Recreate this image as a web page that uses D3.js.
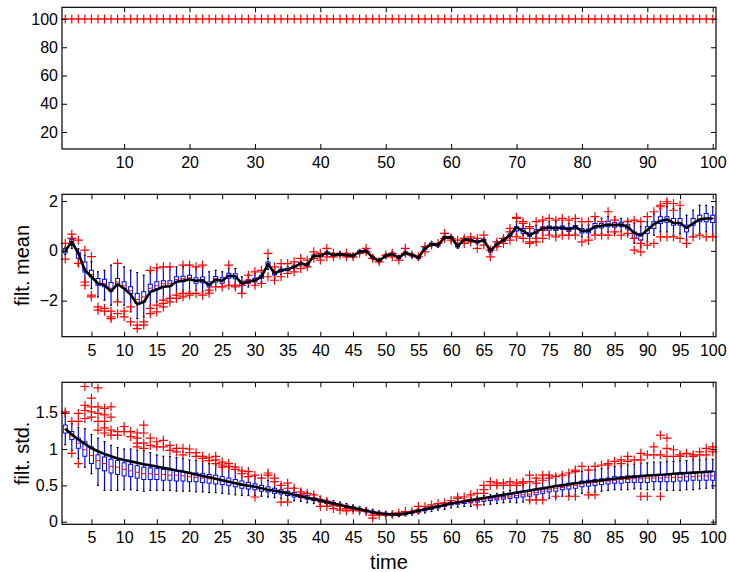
<!DOCTYPE html>
<html>
<head>
<meta charset="utf-8">
<script src="https://cdn.jsdelivr.net/npm/d3@7"></script>
<style>
  html, body { margin: 0; padding: 0; background: #fff; }
  svg { display: block; font-family: "Liberation Sans", Arial, Helvetica, sans-serif; }
</style>
</head>
<body>
<svg id="chart" width="730" height="572"></svg>
<script>
// time steps 1..100 (one box per step)
const timeSteps = d3.range(1, 101);

const xTicksTop = [10, 20, 30, 40, 50, 60, 70, 80, 90, 100];
const xTicksFive = [5, 10, 15, 20, 25, 30, 35, 40, 45, 50, 55, 60, 65, 70, 75, 80, 85, 90, 95, 100];
const yTicksCount = [20, 40, 60, 80, 100];
const yTicksMean = [-2, 0, 2];
const yTicksStd = [0, 0.5, 1, 1.5];

// panel 1: particle count per step
const particleCounts = [
  100, 100, 100, 100, 100, 100, 100, 100, 100, 100, 100, 100, 100, 100, 100, 100, 100, 100, 100, 100,
  100, 100, 100, 100, 100, 100, 100, 100, 100, 100, 100, 100, 100, 100, 100, 100, 100, 100, 100, 100,
  100, 100, 100, 100, 100, 100, 100, 100, 100, 100, 100, 100, 100, 100, 100, 100, 100, 100, 100, 100,
  100, 100, 100, 100, 100, 100, 100, 100, 100, 100, 100, 100, 100, 100, 100, 100, 100, 100, 100, 100,
  100, 100, 100, 100, 100, 100, 100, 100, 100, 100, 100, 100, 100, 100, 100, 100, 100, 100, 100, 100
];

// panel 2: filtered mean
const meanTruth = [
  0.00, 0.36, -0.10, -0.78, -1.04, -1.31, -1.38, -1.62, -1.34, -1.51,
  -1.75, -2.14, -2.05, -1.65, -1.55, -1.44, -1.42, -1.24, -1.20, -1.15,
  -1.20, -1.18, -1.38, -1.15, -1.20, -1.00, -1.02, -1.31, -1.24, -1.18,
  -1.04, -0.53, -0.91, -0.78, -0.75, -0.64, -0.51, -0.57, -0.20, -0.20,
  -0.08, -0.17, -0.13, -0.17, -0.20, -0.04, 0.00, -0.27, -0.40, -0.20,
  -0.13, -0.27, -0.08, -0.17, -0.27, 0.10, 0.27, 0.23, 0.54, 0.54,
  0.19, 0.46, 0.43, 0.36, 0.43, 0.00, 0.27, 0.43, 0.63, 0.94,
  0.80, 0.63, 0.76, 0.90, 0.94, 0.90, 0.94, 0.86, 0.96, 0.80,
  0.80, 0.98, 1.00, 1.06, 1.03, 1.06, 0.96, 0.72, 0.62, 0.84,
  1.07, 1.20, 1.26, 1.12, 1.12, 0.92, 1.10, 1.26, 1.30, 1.30
];
const meanMedian = [
  0.00, 0.38, -0.12, -0.70, -0.95, -1.30, -1.30, -1.50, -1.25, -1.40,
  -1.60, -1.95, -1.85, -1.50, -1.40, -1.32, -1.30, -1.15, -1.12, -1.08,
  -1.18, -1.15, -1.35, -1.13, -1.18, -1.00, -1.02, -1.30, -1.24, -1.18,
  -1.04, -0.53, -0.91, -0.78, -0.75, -0.64, -0.51, -0.57, -0.20, -0.20,
  -0.08, -0.17, -0.13, -0.17, -0.20, -0.04, 0.00, -0.27, -0.40, -0.20,
  -0.13, -0.27, -0.08, -0.17, -0.27, 0.10, 0.27, 0.23, 0.54, 0.54,
  0.19, 0.46, 0.43, 0.36, 0.43, 0.00, 0.27, 0.43, 0.63, 0.90,
  0.80, 0.65, 0.77, 0.90, 0.93, 0.90, 0.94, 0.86, 0.96, 0.80,
  0.80, 0.98, 1.00, 1.06, 1.03, 1.06, 0.96, 0.70, 0.60, 0.84,
  1.05, 1.20, 1.25, 1.12, 1.12, 0.92, 1.10, 1.26, 1.30, 1.30
];
const meanQ3 = [
  0.09, 0.46, -0.05, -0.45, -0.78, -1.11, -1.14, -1.27, -1.11, -1.24,
  -1.44, -1.71, -1.64, -1.34, -1.24, -1.20, -1.20, -1.04, -1.02, -0.98,
  -1.08, -1.05, -1.25, -1.03, -1.08, -0.90, -0.92, -1.22, -1.16, -1.10,
  -0.98, -0.45, -0.85, -0.73, -0.70, -0.60, -0.47, -0.53, -0.17, -0.17,
  -0.04, -0.13, -0.09, -0.13, -0.16, 0.00, 0.04, -0.23, -0.36, -0.16,
  -0.09, -0.23, -0.04, -0.13, -0.23, 0.14, 0.31, 0.27, 0.58, 0.58,
  0.23, 0.50, 0.47, 0.40, 0.47, 0.05, 0.32, 0.48, 0.68, 0.97,
  0.90, 0.72, 0.85, 0.97, 1.00, 0.97, 1.00, 0.93, 1.02, 0.90,
  0.88, 1.10, 1.10, 1.19, 1.14, 1.15, 1.05, 0.76, 0.70, 0.97,
  1.17, 1.37, 1.37, 1.30, 1.30, 1.03, 1.30, 1.43, 1.50, 1.43
];
const meanQ1 = [
  -0.08, 0.23, -0.30, -0.85, -1.04, -1.38, -1.44, -1.62, -1.38, -1.51,
  -1.71, -2.11, -2.05, -1.62, -1.51, -1.44, -1.42, -1.27, -1.24, -1.18,
  -1.30, -1.28, -1.45, -1.25, -1.30, -1.10, -1.12, -1.40, -1.30, -1.25,
  -1.10, -0.60, -0.97, -0.83, -0.80, -0.68, -0.55, -0.61, -0.23, -0.23,
  -0.12, -0.21, -0.17, -0.21, -0.24, -0.08, -0.04, -0.31, -0.44, -0.24,
  -0.17, -0.31, -0.12, -0.21, -0.31, 0.06, 0.23, 0.19, 0.50, 0.50,
  0.15, 0.42, 0.39, 0.32, 0.39, -0.05, 0.22, 0.38, 0.57, 0.80,
  0.70, 0.58, 0.70, 0.82, 0.83, 0.82, 0.86, 0.78, 0.88, 0.72,
  0.72, 0.90, 0.92, 0.97, 0.95, 0.97, 0.88, 0.50, 0.43, 0.70,
  0.90, 1.10, 1.15, 1.03, 1.03, 0.76, 1.03, 1.17, 1.17, 1.14
];
const meanHigh = [
  0.15, 0.55, 0.09, -0.17, -0.44, -0.84, -0.78, -0.57, -0.51, -0.64,
  -0.78, -0.87, -0.98, -0.84, -0.68, -0.64, -0.64, -0.64, -0.64, -0.57,
  -0.64, -0.64, -0.84, -0.78, -0.84, -0.71, -0.71, -1.04, -0.95, -0.90,
  -0.85, -0.30, -0.75, -0.65, -0.62, -0.54, -0.42, -0.48, -0.12, -0.12,
  0.01, -0.08, -0.04, -0.08, -0.11, 0.05, 0.09, -0.18, -0.31, -0.11,
  -0.04, -0.18, 0.01, -0.08, -0.18, 0.19, 0.36, 0.32, 0.63, 0.63,
  0.28, 0.55, 0.52, 0.45, 0.52, 0.10, 0.40, 0.55, 0.78, 1.17,
  1.03, 0.90, 1.03, 1.17, 1.17, 1.17, 1.23, 1.10, 1.17, 1.03,
  1.03, 1.30, 1.30, 1.37, 1.37, 1.30, 1.23, 1.10, 0.97, 1.17,
  1.50, 1.70, 1.77, 1.70, 1.70, 1.43, 1.63, 1.83, 1.83, 1.77
];
const meanLow = [
  -0.15, 0.10, -0.58, -1.25, -1.51, -1.85, -1.98, -2.18, -1.98, -2.18,
  -2.45, -2.72, -2.65, -2.31, -2.05, -1.98, -1.85, -1.78, -1.64, -1.64,
  -1.58, -1.64, -1.64, -1.44, -1.44, -1.38, -1.38, -1.64, -1.45, -1.40,
  -1.25, -0.75, -1.10, -0.95, -0.90, -0.76, -0.62, -0.66, -0.28, -0.28,
  -0.17, -0.26, -0.22, -0.26, -0.29, -0.13, -0.09, -0.36, -0.49, -0.29,
  -0.22, -0.36, -0.17, -0.26, -0.36, 0.01, 0.18, 0.14, 0.45, 0.45,
  0.10, 0.37, 0.34, 0.27, 0.34, -0.15, 0.15, 0.30, 0.50, 0.63,
  0.63, 0.50, 0.56, 0.63, 0.70, 0.63, 0.70, 0.63, 0.70, 0.56,
  0.56, 0.70, 0.70, 0.76, 0.70, 0.76, 0.63, 0.30, 0.17, 0.36,
  0.63, 0.76, 0.76, 0.63, 0.70, 0.43, 0.56, 0.70, 0.76, 0.63
];
const meanOutliers = [
  [0.3, -0.33], [0.67, 0.5], [0.43, -0.5], [0.03, -1.25, -1.38], [-0.23, -1.78, -1.85],
  [-2.25, -2.38], [-2.31, -2.42], [-2.42, -2.65, -2.72], [-0.5, -2.05, -2.52], [-2.42, -2.65],
  [-2.25, -2.85], [-2.98, -3.12], [-2.85, -2.98], [-0.78, -2.31, -2.52], [-0.68, -2.18, -2.45],
  [-0.64, -1.98, -2.11, -2.25], [-0.64, -1.91, -2.05], [-1.78, -1.91], [-0.57, -1.71, -1.85], [-0.57, -1.71, -1.78],
  [-0.64, -1.71], [-0.57, -1.78], [-1.58, -1.7], [-1.45], [-1.45],
  [-0.57, -1.38], [-1.38, -1.45], [-1.38, -1.71], [-0.98, -1.18], [-0.84, -1.38],
  [-0.78, -1.31], [-0.1, -1.04], [-0.64, -1.18], [-0.51, -1.04], [-0.51, -0.91],
  [-0.44, -0.84], [-0.3, -0.71], [-0.37, -0.64], [-0.04, -0.3], [-0.1, -0.37],
  [0.1, -0.24], [-0.1, -0.24], [-0.17], [-0.1, -0.24], [-0.24],
  [-0.1], [0.1, -0.04], [-0.3], [-0.44], [-0.17],
  [-0.1, -0.24], [-0.37], [0.1, -0.1], [-0.17], [-0.24],
  [0.17, -0.04], [0.23], [0.3], [0.7, 0.5], [0.5, 0.43],
  [0.43], [0.5, 0.3], [0.56, 0.36], [0.5, 0.1], [0.63, 0.23],
  [0.03, -0.24], [0.36, 0.17], [0.5, 0.3], [0.9, 0.76, 0.43], [1.34, 1.3, 0.56],
  [1.17, 1.1, 0.5], [0.97, 0.9, 0.36, 0.3], [1.17, 0.5, 0.36], [1.23, 0.83, 0.5], [1.3, 0.63],
  [1.23, 0.56], [1.3, 0.63], [1.23, 0.63], [1.3, 0.63], [1.17, 0.36],
  [1.17, 0.43], [1.37, 0.63], [1.17, 0.63], [1.57, 0.63], [1.23, 0.76],
  [0.63], [1.17, 0.7], [1.23, 0.5, 0.03], [1.17, 0.3, -0.04], [1.37, 0.23],
  [1.57, 0.3], [1.83, 1.77, 0.56], [1.97, 1.9, 0.56], [1.9, 1.63, 0.56], [1.83, 0.5],
  [0.3], [0.56], [0.63], [0.56], [0.56]
];

// panel 3: filtered std
const stdTruth = [
  1.28, 1.20, 1.13, 1.07, 1.01, 0.97, 0.93, 0.90, 0.87, 0.85,
  0.83, 0.81, 0.79, 0.775, 0.76, 0.74, 0.725, 0.705, 0.69, 0.67,
  0.65, 0.63, 0.61, 0.59, 0.57, 0.55, 0.53, 0.51, 0.495, 0.48,
  0.46, 0.44, 0.425, 0.41, 0.39, 0.37, 0.35, 0.33, 0.31, 0.29,
  0.27, 0.25, 0.23, 0.21, 0.19, 0.17, 0.15, 0.13, 0.115, 0.105,
  0.10, 0.10, 0.11, 0.13, 0.15, 0.17, 0.19, 0.21, 0.23, 0.25,
  0.265, 0.28, 0.295, 0.31, 0.325, 0.34, 0.355, 0.37, 0.385, 0.40,
  0.415, 0.43, 0.445, 0.46, 0.475, 0.49, 0.50, 0.515, 0.53, 0.54,
  0.55, 0.56, 0.57, 0.58, 0.59, 0.60, 0.61, 0.62, 0.625, 0.635,
  0.64, 0.645, 0.65, 0.66, 0.665, 0.67, 0.675, 0.68, 0.685, 0.69
];
const stdMedian = [
  1.27, 1.18, 1.08, 0.99, 0.91, 0.84, 0.80, 0.76, 0.75, 0.72,
  0.70, 0.68, 0.66, 0.66, 0.65, 0.65, 0.64, 0.64, 0.63, 0.62,
  0.61, 0.60, 0.59, 0.58, 0.56, 0.55, 0.53, 0.51, 0.50, 0.48,
  0.46, 0.44, 0.43, 0.41, 0.39, 0.37, 0.35, 0.33, 0.31, 0.29,
  0.27, 0.25, 0.23, 0.21, 0.19, 0.17, 0.15, 0.13, 0.115, 0.105,
  0.10, 0.10, 0.11, 0.13, 0.15, 0.17, 0.19, 0.21, 0.23, 0.25,
  0.26, 0.27, 0.28, 0.29, 0.30, 0.31, 0.32, 0.33, 0.34, 0.36,
  0.37, 0.38, 0.40, 0.42, 0.44, 0.46, 0.47, 0.49, 0.50, 0.52,
  0.53, 0.54, 0.55, 0.56, 0.57, 0.58, 0.58, 0.59, 0.59, 0.60,
  0.60, 0.60, 0.61, 0.61, 0.61, 0.62, 0.62, 0.63, 0.63, 0.63
];
const stdQ3 = [
  1.33, 1.24, 1.15, 1.10, 1.03, 0.92, 0.89, 0.86, 0.84, 0.81,
  0.79, 0.77, 0.75, 0.74, 0.73, 0.72, 0.71, 0.70, 0.69, 0.68,
  0.67, 0.66, 0.65, 0.64, 0.62, 0.60, 0.58, 0.56, 0.54, 0.52,
  0.50, 0.48, 0.46, 0.44, 0.42, 0.40, 0.38, 0.36, 0.33, 0.31,
  0.285, 0.265, 0.245, 0.225, 0.205, 0.185, 0.165, 0.145, 0.13, 0.12,
  0.115, 0.115, 0.125, 0.145, 0.165, 0.185, 0.205, 0.225, 0.245, 0.265,
  0.275, 0.29, 0.30, 0.31, 0.32, 0.33, 0.34, 0.35, 0.37, 0.40,
  0.41, 0.42, 0.44, 0.45, 0.47, 0.49, 0.51, 0.53, 0.54, 0.56,
  0.57, 0.58, 0.59, 0.60, 0.62, 0.62, 0.63, 0.63, 0.64, 0.64,
  0.65, 0.65, 0.66, 0.66, 0.66, 0.67, 0.67, 0.68, 0.68, 0.69
];
const stdQ1 = [
  1.22, 1.13, 1.01, 0.90, 0.80, 0.73, 0.70, 0.67, 0.65, 0.63,
  0.62, 0.60, 0.58, 0.58, 0.58, 0.57, 0.57, 0.56, 0.56, 0.55,
  0.55, 0.54, 0.53, 0.52, 0.51, 0.50, 0.48, 0.46, 0.45, 0.44,
  0.42, 0.41, 0.39, 0.38, 0.36, 0.34, 0.33, 0.31, 0.29, 0.27,
  0.25, 0.23, 0.21, 0.19, 0.17, 0.15, 0.135, 0.115, 0.10, 0.09,
  0.085, 0.085, 0.095, 0.115, 0.13, 0.15, 0.17, 0.19, 0.21, 0.23,
  0.24, 0.25, 0.26, 0.27, 0.28, 0.29, 0.30, 0.31, 0.32, 0.33,
  0.34, 0.35, 0.37, 0.39, 0.41, 0.42, 0.44, 0.45, 0.46, 0.48,
  0.49, 0.50, 0.51, 0.52, 0.53, 0.53, 0.54, 0.54, 0.54, 0.54,
  0.55, 0.55, 0.55, 0.55, 0.56, 0.56, 0.57, 0.57, 0.57, 0.57
];
const stdHigh = [
  1.50, 1.35, 1.30, 1.28, 1.20, 1.15, 1.10, 1.05, 1.02, 1.00,
  1.00, 0.98, 0.98, 0.95, 0.92, 0.90, 0.90, 0.88, 0.87, 0.85,
  0.84, 0.83, 0.80, 0.78, 0.76, 0.74, 0.72, 0.70, 0.66, 0.63,
  0.60, 0.57, 0.55, 0.52, 0.50, 0.47, 0.44, 0.41, 0.38, 0.35,
  0.31, 0.29, 0.27, 0.25, 0.23, 0.21, 0.19, 0.17, 0.15, 0.14,
  0.13, 0.13, 0.14, 0.16, 0.18, 0.20, 0.22, 0.24, 0.26, 0.28,
  0.30, 0.31, 0.33, 0.34, 0.36, 0.37, 0.39, 0.41, 0.43, 0.50,
  0.52, 0.55, 0.57, 0.60, 0.62, 0.64, 0.66, 0.67, 0.68, 0.69,
  0.71, 0.72, 0.73, 0.74, 0.76, 0.77, 0.78, 0.79, 0.80, 0.81,
  0.82, 0.82, 0.83, 0.83, 0.84, 0.84, 0.85, 0.85, 0.86, 0.86
];
const stdLow = [
  1.06, 0.98, 0.87, 0.75, 0.66, 0.50, 0.43, 0.43, 0.43, 0.44,
  0.44, 0.43, 0.42, 0.43, 0.43, 0.43, 0.43, 0.42, 0.42, 0.42,
  0.41, 0.41, 0.40, 0.40, 0.39, 0.38, 0.37, 0.36, 0.36, 0.36,
  0.35, 0.34, 0.33, 0.32, 0.30, 0.29, 0.28, 0.26, 0.25, 0.23,
  0.22, 0.20, 0.18, 0.16, 0.14, 0.12, 0.11, 0.09, 0.08, 0.07,
  0.07, 0.07, 0.08, 0.09, 0.11, 0.12, 0.14, 0.16, 0.17, 0.19,
  0.20, 0.21, 0.21, 0.22, 0.23, 0.24, 0.25, 0.26, 0.27, 0.26,
  0.27, 0.28, 0.30, 0.31, 0.32, 0.33, 0.35, 0.36, 0.37, 0.39,
  0.40, 0.41, 0.42, 0.43, 0.44, 0.44, 0.44, 0.45, 0.45, 0.44,
  0.44, 0.44, 0.43, 0.43, 0.43, 0.44, 0.44, 0.45, 0.46, 0.46
];
const stdOutliers = [
  [1.51, 1.49], [1.38, 0.94], [1.49, 1.38, 0.8], [1.86, 1.6, 1.53, 1.42], [1.7, 1.58, 1.51, 1.44],
  [1.84, 1.58, 1.49, 1.38, 1.26], [1.56, 1.47, 1.38, 1.29, 1.22], [1.58, 1.44, 1.26, 1.19], [1.24, 1.19], [1.31, 1.24],
  [1.24, 1.17], [1.22, 1.15, 1.08, 1.03], [1.33, 1.22, 1.08, 1.01], [1.15, 1.05], [1.1, 1.03],
  [1.12, 1.03], [1.05, 0.98], [1.01, 0.96], [1.01, 0.92], [1.0, 0.95],
  [0.95, 0.9], [0.9, 0.87], [0.88, 0.84], [0.9, 0.85, 0.8], [0.82, 0.78, 0.75],
  [0.8, 0.76], [0.75, 0.72], [0.7, 0.66], [0.69, 0.62], [0.64, 0.34],
  [0.6], [0.67, 0.64], [0.6, 0.55], [0.5, 0.27], [0.53, 0.46, 0.27],
  [0.46], [0.41, 0.37], [0.39], [0.37, 0.32], [0.3, 0.21],
  [0.28, 0.21], [0.23, 0.18], [0.21, 0.16], [0.18, 0.15], [0.16],
  [0.15], [0.14], [0.09, 0.05], [0.09], [0.09],
  [0.1], [0.12], [0.14], [0.14], [0.16, 0.21],
  [0.21], [0.23], [0.25], [0.26], [0.29],
  [0.34, 0.32], [0.34], [0.37, 0.3], [0.39, 0.23], [0.5, 0.44, 0.39],
  [0.55, 0.5], [0.5, 0.53], [0.53, 0.5], [0.55, 0.5], [0.53, 0.5],
  [0.55, 0.53], [0.64, 0.55, 0.3], [0.6, 0.53, 0.3], [0.64, 0.57, 0.3], [0.64, 0.6],
  [0.62, 0.35], [0.64], [0.67, 0.35], [0.71, 0.69, 0.35], [0.76],
  [0.71, 0.37], [0.76, 0.37], [0.78], [0.8, 0.78], [0.83],
  [0.85, 0.8], [0.9, 0.83], [0.85], [0.85, 0.94, 0.35], [0.92, 0.35],
  [1.03, 0.92], [1.19, 0.92, 0.35], [1.15, 1.01, 0.9], [0.99, 0.9], [0.92, 0.9],
  [0.94], [0.92, 0.9], [0.96, 0.92], [1.01, 0.92], [1.03, 0.99, 0.96]
];

const BLUE = "#0000ff";
const RED = "#ff0000";
const FONT = "'Liberation Sans', Arial, Helvetica, sans-serif";
const boxWidth = 4;
const plusArm = 4.5;

const svg = d3.select("#chart");
const x = d3.scaleLinear().domain([0.5, 100.5]).range([62, 716]);

function buildStats(q1, q3, median, low, high, outliers) {
  return timeSteps.map((t, i) => ({
    t,
    q1: q1[i],
    q3: q3[i],
    median: median[i],
    low: low[i],
    high: high[i],
    outliers: outliers[i]
  }));
}

function plusPath(px, py) {
  return `M${px - plusArm},${py}H${px + plusArm}M${px},${py - plusArm}V${py + plusArm}`;
}

function drawAxes(g, y, xTickValues, yTickValues) {
  const [bottom, top] = y.range();
  const [left, right] = x.range();
  const tick = 5;
  const fmt = d3.format("");

  const styleAxis = (axis) => {
    axis.attr("font-size", null).attr("font-family", null);
    axis.select(".domain").remove();
    axis.selectAll(".tick line").attr("stroke", "#000");
    axis.selectAll(".tick text").attr("fill", "#000").style("font-size", "16px").style("font-family", FONT);
  };

  g.append("g")
    .attr("transform", `translate(0,${bottom})`)
    .call(d3.axisBottom(x).tickValues(xTickValues).tickSizeInner(-tick).tickSizeOuter(0).tickFormat(fmt))
    .call(styleAxis)
    .call((axis) => axis.selectAll(".tick text").attr("y", 19).attr("dy", null));
  g.append("g")
    .attr("transform", `translate(0,${top})`)
    .call(d3.axisTop(x).tickValues(xTickValues).tickSizeInner(-tick).tickSizeOuter(0).tickFormat(""))
    .call(styleAxis);
  g.append("g")
    .attr("transform", `translate(${left},0)`)
    .call(d3.axisLeft(y).tickValues(yTickValues).tickSizeInner(-tick).tickSizeOuter(0).tickPadding(4).tickFormat(fmt))
    .call(styleAxis);
  g.append("g")
    .attr("transform", `translate(${right},0)`)
    .call(d3.axisRight(y).tickValues(yTickValues).tickSizeInner(-tick).tickSizeOuter(0).tickFormat(""))
    .call(styleAxis);

  g.append("rect")
    .attr("x", left)
    .attr("y", top)
    .attr("width", right - left)
    .attr("height", bottom - top)
    .attr("fill", "none")
    .attr("stroke", "#000")
    .attr("stroke-width", 1.2);
}

function drawBoxplot(g, y, stats) {
  const half = boxWidth / 2;
  const item = g.append("g")
    .selectAll("g")
    .data(stats)
    .join("g");

  item.append("line")
    .attr("x1", (d) => x(d.t))
    .attr("x2", (d) => x(d.t))
    .attr("y1", (d) => y(d.q3))
    .attr("y2", (d) => y(d.high))
    .attr("stroke", BLUE)
    .attr("stroke-width", 1.2);
  item.append("line")
    .attr("x1", (d) => x(d.t))
    .attr("x2", (d) => x(d.t))
    .attr("y1", (d) => y(d.q1))
    .attr("y2", (d) => y(d.low))
    .attr("stroke", BLUE)
    .attr("stroke-width", 1.2);
  item.selectAll("line.cap")
    .data((d) => [d.high, d.low].map((v) => ({ t: d.t, v })))
    .join("line")
    .attr("class", "cap")
    .attr("x1", (d) => x(d.t) - 1)
    .attr("x2", (d) => x(d.t) + 1)
    .attr("y1", (d) => y(d.v))
    .attr("y2", (d) => y(d.v))
    .attr("stroke", "#000")
    .attr("stroke-width", 1.2);
  item.append("rect")
    .attr("x", (d) => x(d.t) - half)
    .attr("y", (d) => y(d.q3))
    .attr("width", boxWidth)
    .attr("height", (d) => Math.max(0.5, y(d.q1) - y(d.q3)))
    .attr("fill", "none")
    .attr("stroke", BLUE)
    .attr("stroke-width", 1);
  item.append("line")
    .attr("x1", (d) => x(d.t) - half)
    .attr("x2", (d) => x(d.t) + half)
    .attr("y1", (d) => y(d.median))
    .attr("y2", (d) => y(d.median))
    .attr("stroke", RED)
    .attr("stroke-width", 1);
  item.selectAll("path.out")
    .data((d) => d.outliers.map((v) => ({ t: d.t, v })))
    .join("path")
    .attr("class", "out")
    .attr("d", (d) => plusPath(x(d.t), y(d.v)))
    .attr("fill", "none")
    .attr("stroke", RED)
    .attr("stroke-width", 1.2);
}

function drawTruth(g, y, values) {
  g.append("path")
    .datum(values)
    .attr("d", d3.line().x((d, i) => x(timeSteps[i])).y((d) => y(d)))
    .attr("fill", "none")
    .attr("stroke", "#000")
    .attr("stroke-width", 2.6)
    .attr("stroke-linejoin", "round");
}

function drawYLabel(text, y) {
  const [bottom, top] = y.range();
  svg.append("text")
    .attr("transform", `translate(29,${(top + bottom) / 2}) rotate(-90)`)
    .attr("text-anchor", "middle")
    .style("font-size", "20px")
    .style("font-family", FONT)
    .attr("fill", "#000")
    .text(text);
}

// panel 1: particle count
const yCount = d3.scaleLinear().domain([7.96, 108.3]).range([149, 7.3]);
const countPanel = svg.append("g");
countPanel.append("g")
  .selectAll("line")
  .data(particleCounts)
  .join("line")
  .attr("x1", (d, i) => x(timeSteps[i]) - boxWidth / 2)
  .attr("x2", (d, i) => x(timeSteps[i]) + boxWidth / 2)
  .attr("y1", (d) => yCount(d))
  .attr("y2", (d) => yCount(d))
  .attr("stroke", RED)
  .attr("stroke-width", 1);
countPanel.append("g")
  .selectAll("path")
  .data(particleCounts)
  .join("path")
  .attr("d", (d, i) => plusPath(x(timeSteps[i]), yCount(d)))
  .attr("fill", "none")
  .attr("stroke", RED)
  .attr("stroke-width", 1.2);
drawAxes(countPanel, yCount, xTicksTop, yTicksCount);

// panel 2: filtered mean
const yMean = d3.scaleLinear().domain([-3.446, 2.27]).range([336.7, 194.3]);
const meanPanel = svg.append("g");
drawBoxplot(meanPanel, yMean, buildStats(meanQ1, meanQ3, meanMedian, meanLow, meanHigh, meanOutliers));
drawTruth(meanPanel, yMean, meanTruth);
drawAxes(meanPanel, yMean, xTicksFive, yTicksMean);
drawYLabel("filt. mean", yMean);

// panel 3: filtered std
const yStd = d3.scaleLinear().domain([-0.036, 1.918]).range([524.3, 382.3]);
const stdPanel = svg.append("g");
drawBoxplot(stdPanel, yStd, buildStats(stdQ1, stdQ3, stdMedian, stdLow, stdHigh, stdOutliers));
drawTruth(stdPanel, yStd, stdTruth);
drawAxes(stdPanel, yStd, xTicksFive, yTicksStd);
drawYLabel("filt. std.", yStd);

svg.append("text")
  .attr("x", (x.range()[0] + x.range()[1]) / 2)
  .attr("y", 569)
  .attr("text-anchor", "middle")
  .style("font-size", "20px")
  .style("font-family", FONT)
  .attr("fill", "#000")
  .text("time");
</script>
</body>
</html>
